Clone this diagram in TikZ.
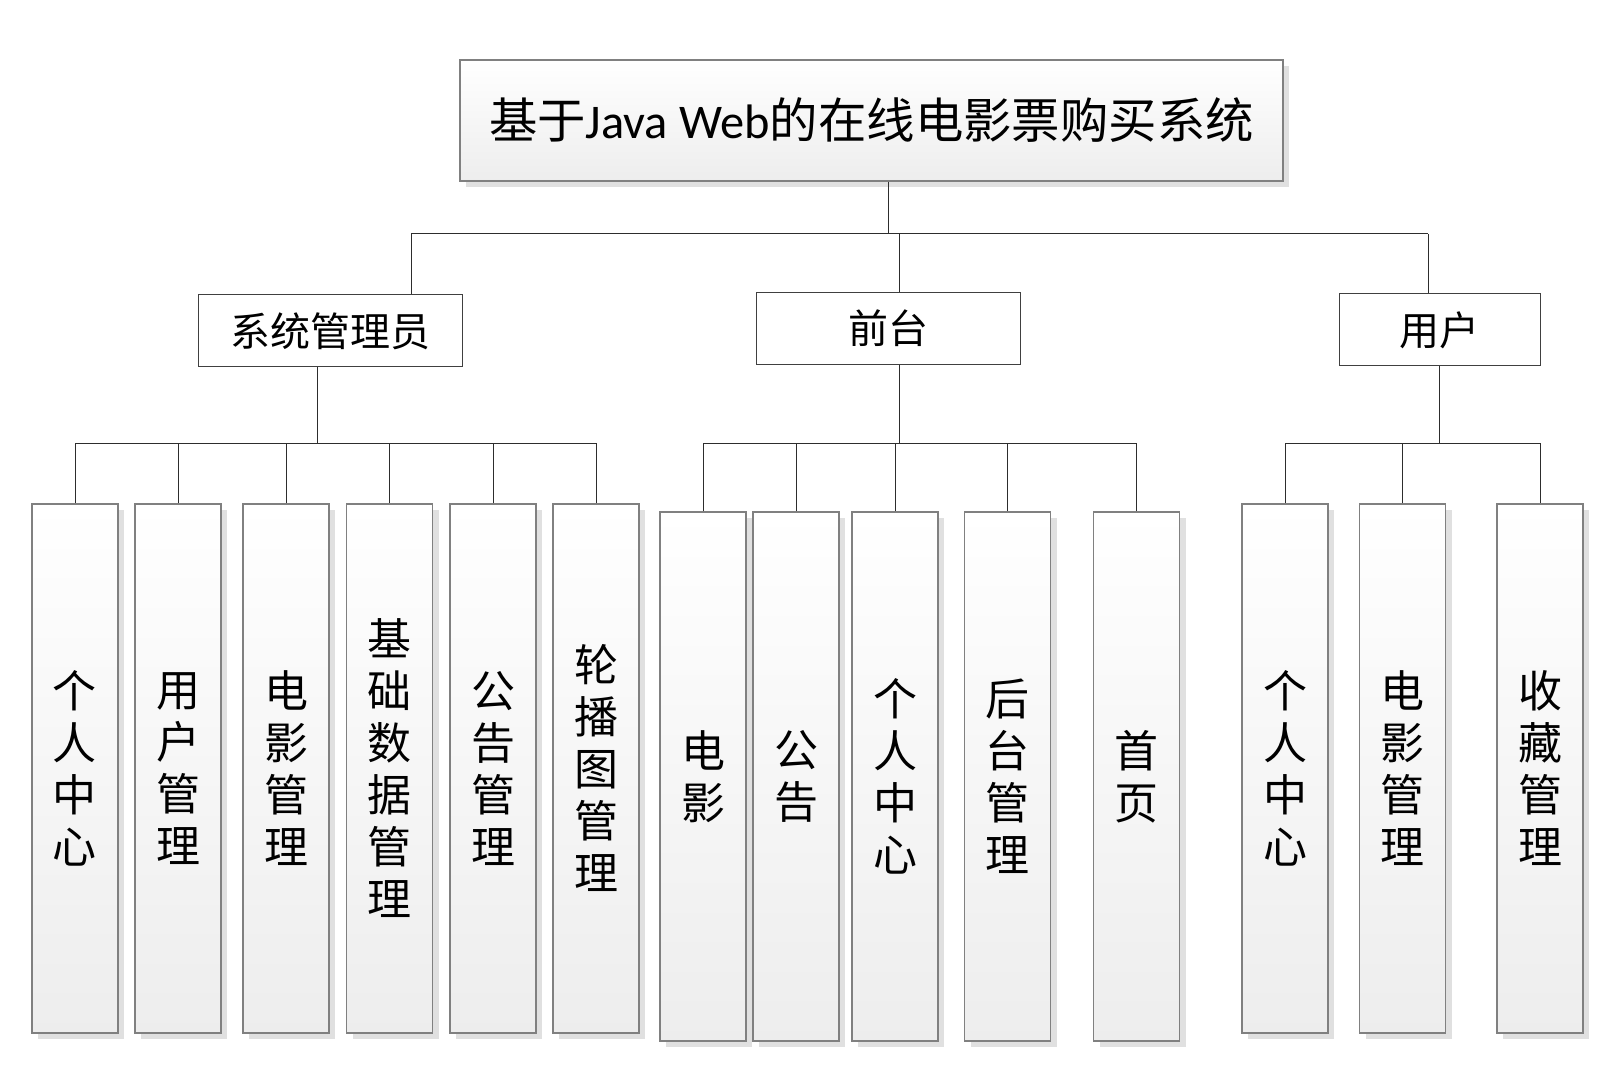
\documentclass[tikz,border=0pt]{standalone}
\usepackage{fontspec}
\setmainfont{Carlito}
\newfontfamily\cjk{Noto Sans CJK SC}
\usetikzlibrary{shadows}
\definecolor{BoxLine}{RGB}{128, 128, 128}
\definecolor{LinkLine}{RGB}{45, 45, 45}

\begin{document}
\begin{tikzpicture}[
    x=0.5pt, y=-0.5pt,
    every node/.style={align=center, inner sep=0pt},
    title/.style={draw=BoxLine, line width=0.7pt, top color=white, bottom color=black!7,
                drop shadow={shadow xshift=3pt, shadow yshift=-3pt, fill=black!12, opacity=1},
                minimum width=411.5pt, minimum height=60.5pt, font=\fontsize{24.2}{29}\selectfont},
    role/.style={draw=black!75, line width=0.5pt, fill=white,
                minimum width=132pt, minimum height=36pt, font=\cjk\fontsize{20}{24}\selectfont},
    leaf/.style={draw=BoxLine, line width=0.8pt, top color=white, bottom color=black!7,
                drop shadow={shadow xshift=3pt, shadow yshift=-3pt, fill=black!12, opacity=1},
                minimum width=43pt, minimum height=264.5pt, font=\cjk\fontsize{22}{26}\selectfont},
    link/.style={draw=LinkLine, line width=0.5pt}
]
\useasboundingbox (0,0) rectangle (1618,1074);

\node[title] (sys) at (871.5,120.5) {{\cjk 基于}Java Web{\cjk 的在线电影票购买系统}};

\node[role] (admin) at (330,331) {系统管理员};
\node[role] (front) at (888,328.5) {前台};
\node[role, minimum width=100.5pt] (user) at (1439.5,330) {用户};

% admin
\node[leaf] (a1) at (75,768.5) {个\\人\\中\\心};
\node[leaf] (a2) at (178,768.5) {用\\户\\管\\理};
\node[leaf] (a3) at (286,768.5) {电\\影\\管\\理};
\node[leaf] (a4) at (389.5,768.5) {基\\础\\数\\据\\管\\理};
\node[leaf] (a5) at (493,768.5) {公\\告\\管\\理};
\node[leaf] (a6) at (596,768.5) {轮\\播\\图\\管\\理};

% front
\node[leaf] (f1) at (703,776.5) {电\\影};
\node[leaf] (f2) at (796,776.5) {公\\告};
\node[leaf] (f3) at (895,776.5) {个\\人\\中\\心};
\node[leaf] (f4) at (1007.5,776.5) {后\\台\\管\\理};
\node[leaf] (f5) at (1136.5,776.5) {首\\页};

% user
\node[leaf] (u1) at (1285,768.5) {个\\人\\中\\心};
\node[leaf] (u2) at (1402.5,768.5) {电\\影\\管\\理};
\node[leaf] (u3) at (1540,768.5) {收\\藏\\管\\理};

% junctions
\coordinate (j0) at (888,234);
\coordinate (jA) at (411,234);
\coordinate (jF) at (899,234);
\coordinate (jU) at (1428,234);
\coordinate (ja) at (317,444);
\coordinate (jf) at (899,444);
\coordinate (ju) at (1439,444);

\draw[link] (sys.south -| j0) -- (j0);
\draw[link] (jA) -- (jU);
\draw[link] (jA) -- (admin.north -| jA);
\draw[link] (jF) -- (front.north -| jF);
\draw[link] (jU) -- (user.north -| jU);

\draw[link] (admin.south -| ja) -- (ja);
\draw[link] (a1.north) |- (ja);
\draw[link] (a2.north) |- (ja);
\draw[link] (a3.north) |- (ja);
\draw[link] (a4.north) |- (ja);
\draw[link] (a5.north) |- (ja);
\draw[link] (a6.north) |- (ja);

\draw[link] (front.south -| jf) -- (jf);
\draw[link] (f1.north) |- (jf);
\draw[link] (f2.north) |- (jf);
\draw[link] (f3.north) |- (jf);
\draw[link] (f4.north) |- (jf);
\draw[link] (f5.north) |- (jf);

\draw[link] (user.south -| ju) -- (ju);
\draw[link] (u1.north) |- (ju);
\draw[link] (u2.north) |- (ju);
\draw[link] (u3.north) |- (ju);
\end{tikzpicture}
\end{document}
